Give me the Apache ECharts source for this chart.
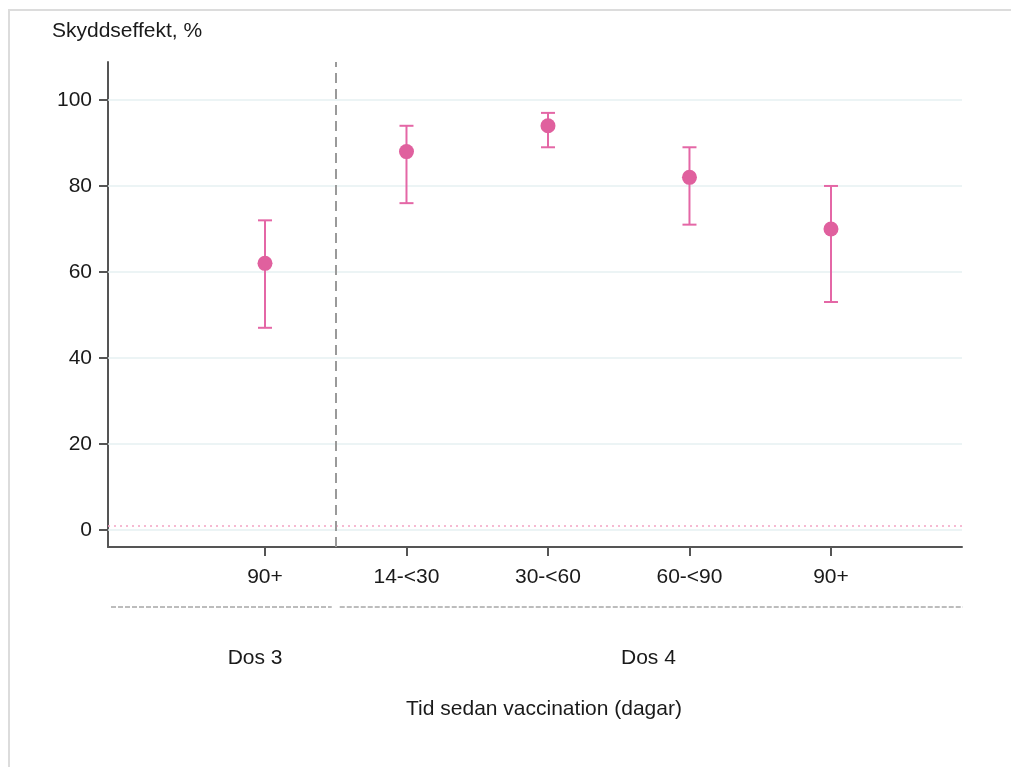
<!DOCTYPE html>
<html>
<head>
<meta charset="utf-8">
<script src="https://cdn.jsdelivr.net/npm/echarts@6/dist/echarts.min.js"></script>
<style>
	html, body { margin: 0; padding: 0; background: #fff; }
	#charts { width: 1011px; height: 767px; }
</style>
</head>
<body>
<div id="charts"></div>
<script>
// 数据
var ageLabels = ['90+', '14-<30', '30-<60', '60-<90', '90+'];
var positions = [1, 2, 3, 4, 5];
var effect = [62, 88, 94, 82, 70];   // 点估计
var lower = [47, 76, 89, 71, 53];    // 下限
var upper = [72, 94, 97, 89, 80];    // 上限
var yTicks = [0, 20, 40, 60, 80, 100];
var groupNames = ['Dos 3', 'Dos 4'];
var groupCenters = [0.93, 3.71];
var groupSplit = 1.5;
var refLine = 1;

var Chart = {

	init: function () {
		this.myChart = echarts.init(document.getElementById('charts'));
		this.renderChart();
		this.renderExtra();
	},

	// 渲染图表
	renderChart: function () {
		var pink = '#e0609e';
		var font = 'Liberation Sans, Arial, sans-serif';

		var gridLines = yTicks.map(function (v) {
			return { yAxis: v, lineStyle: { color: '#e6f0f2', width: 1.5, type: 'solid' } };
		});
		gridLines.push({ yAxis: refLine, lineStyle: { color: '#f3a3c4', width: 1.5, type: [2, 4] } });
		gridLines.push({ xAxis: groupSplit, lineStyle: { color: '#9a9a9a', width: 2, type: [10, 6] } });

		var option = {
			animation: false,
			grid: { left: 108, right: 49, top: 62, bottom: 220 },
			xAxis: {
				type: 'value',
				min: -0.1095,
				max: 5.926,
				axisLine: { onZero: false, lineStyle: { color: '#555', width: 2 } },
				axisTick: { show: true, length: 9, customValues: positions, lineStyle: { color: '#555', width: 2 } },
				axisLabel: {
					customValues: positions,
					margin: 20,
					color: '#1a1a1a',
					fontSize: 21,
					fontFamily: font,
					formatter: function (v) { return ageLabels[Math.round(v) - 1]; }
				},
				splitLine: { show: false }
			},
			yAxis: {
				type: 'value',
				min: -4,
				max: 108.84,
				axisLine: { show: true, onZero: false, lineStyle: { color: '#555', width: 2 } },
				axisTick: { show: true, length: 9, customValues: yTicks, lineStyle: { color: '#555', width: 2 } },
				axisLabel: {
					customValues: yTicks,
					margin: 16,
					color: '#1a1a1a',
					fontSize: 21,
					fontFamily: font
				},
				splitLine: { show: false }
			},
			series: [
				{
					// 置信区间
					type: 'custom',
					z: 3,
					data: positions.map(function (p, i) { return [p, lower[i], upper[i]]; }),
					renderItem: function (params, api) {
						var lo = api.coord([api.value(0), api.value(1)]);
						var hi = api.coord([api.value(0), api.value(2)]);
						var w = 7;
						var style = { stroke: '#e467a6', lineWidth: 2 };
						return {
							type: 'group',
							children: [
								{ type: 'line', shape: { x1: lo[0], y1: lo[1], x2: hi[0], y2: hi[1] }, style: style },
								{ type: 'line', shape: { x1: lo[0] - w, y1: lo[1], x2: lo[0] + w, y2: lo[1] }, style: style },
								{ type: 'line', shape: { x1: hi[0] - w, y1: hi[1], x2: hi[0] + w, y2: hi[1] }, style: style }
							]
						};
					}
				},
				{
					// 点估计
					type: 'scatter',
					z: 4,
					symbolSize: 15,
					itemStyle: { color: pink, opacity: 1 },
					data: positions.map(function (p, i) { return [p, effect[i]]; }),
					markLine: {
						silent: true,
						symbol: 'none',
						label: { show: false },
						z: 1,
						data: gridLines
					}
				}
			]
		};

		this.myChart.setOption(option);
	},

	// 分组线和文字
	renderExtra: function () {
		var c = this.myChart;
		var font = 'Liberation Sans, Arial, sans-serif';
		var px = function (x) { return c.convertToPixel({ gridIndex: 0 }, [x, 0])[0]; };
		var left = px(-0.1095), right = px(5.926), mid = px(groupSplit);
		var lineY = 607;
		var dash = { stroke: '#7a7a7a', lineWidth: 1, lineDash: [5, 2] };

		var graphic = [
			{ type: 'rect', shape: { x: 9, y: 10, width: 1010, height: 765 }, style: { fill: 'none', stroke: '#dcdcdc', lineWidth: 2 } },
			{ type: 'text', left: 52, top: 21, style: { text: 'Skyddseffekt, %', fontSize: 21, fontFamily: font, fill: '#1a1a1a' } },
			{ type: 'line', shape: { x1: left + 3, y1: lineY, x2: mid - 4, y2: lineY }, style: dash },
			{ type: 'line', shape: { x1: mid + 4, y1: lineY, x2: right + 1, y2: lineY }, style: dash },
			{ type: 'text', x: 544, y: 709, style: { text: 'Tid sedan vaccination (dagar)', fontSize: 21, fontFamily: font, fill: '#1a1a1a', align: 'center', verticalAlign: 'middle' } }
		];
		groupNames.forEach(function (name, i) {
			graphic.push({ type: 'text', x: px(groupCenters[i]), y: 658, style: { text: name, fontSize: 21, fontFamily: font, fill: '#1a1a1a', align: 'center', verticalAlign: 'middle' } });
		});

		c.setOption({ graphic: graphic });
	}
};

Chart.init();
</script>
</body>
</html>
